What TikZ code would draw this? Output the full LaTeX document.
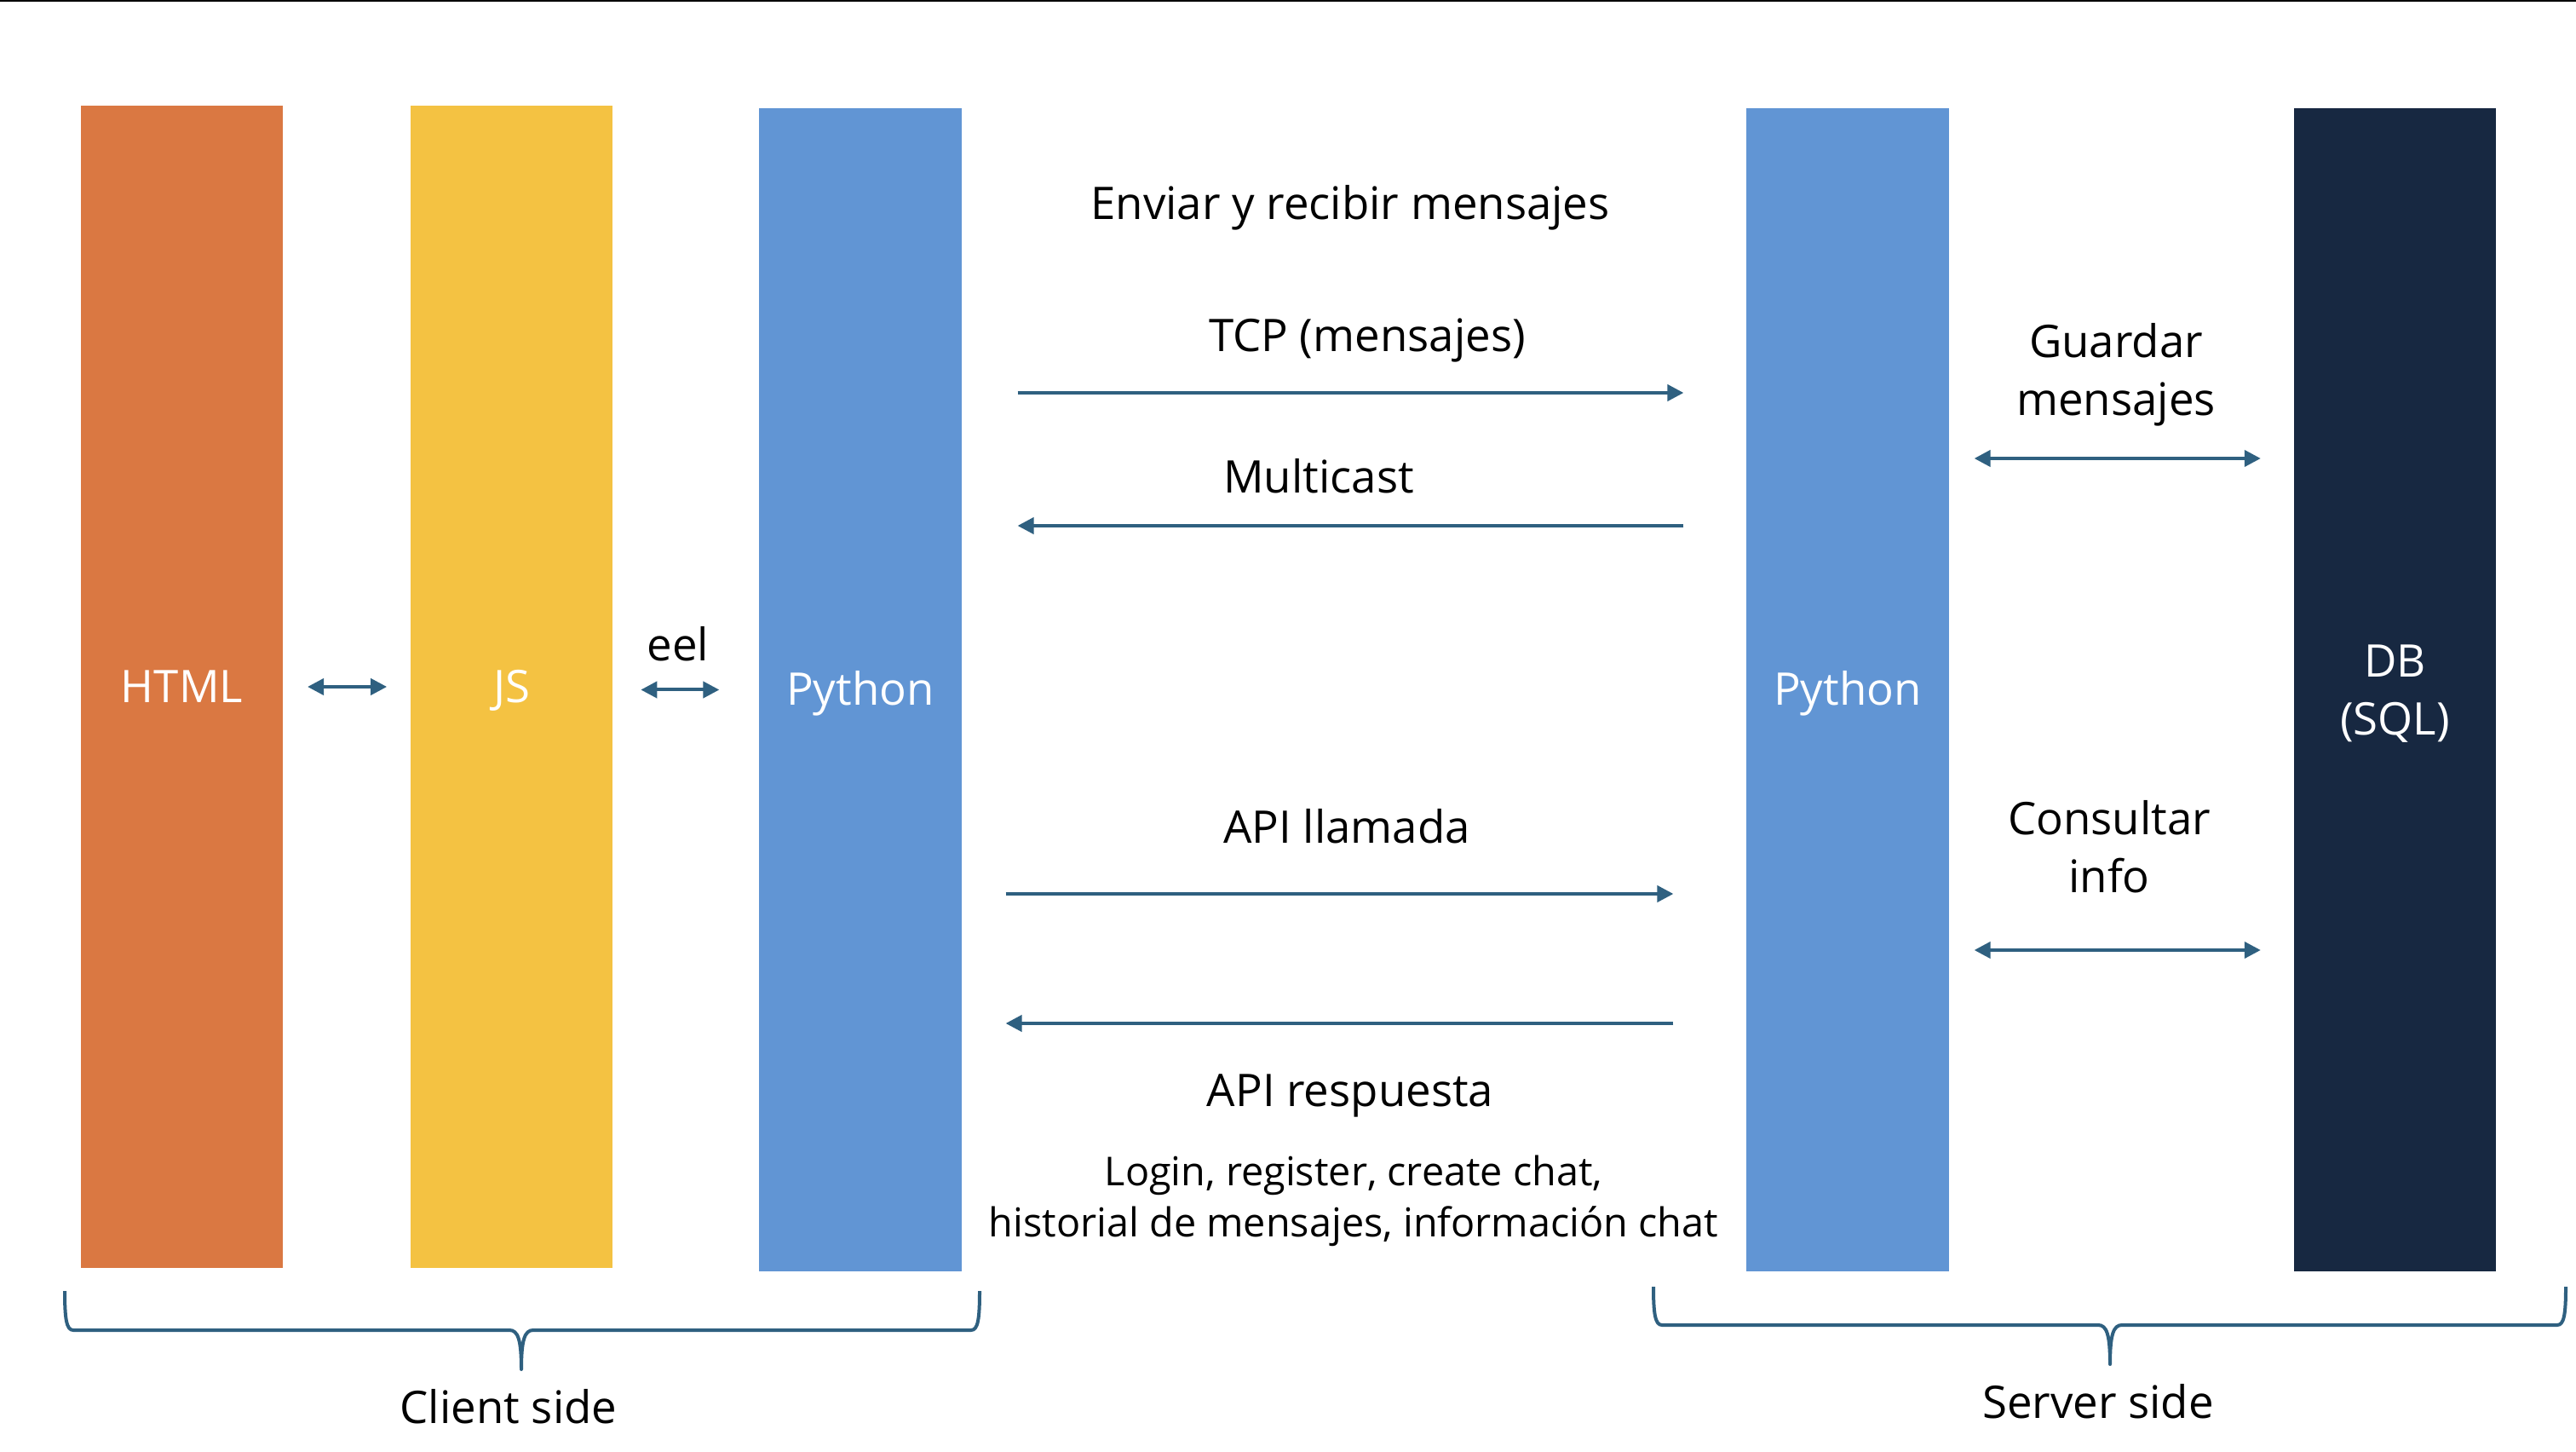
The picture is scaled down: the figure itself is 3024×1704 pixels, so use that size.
\documentclass[tikz,border=0pt]{standalone}
\usepackage{fontspec}
\setmainfont{Open Sans}
\usetikzlibrary{positioning,arrows.meta}
\definecolor{htmlc}{RGB}{218,120,66}
\definecolor{jsc}{RGB}{244,194,66}
\definecolor{pyc}{RGB}{97,149,212}
\definecolor{dbc}{RGB}{23,40,65}
\definecolor{arrc}{RGB}{47,96,128}
\tikzset{
  bar/.style={minimum width=2.37cm, minimum height=13.64cm, inner sep=0pt, outer sep=0pt,
    text=white, align=center, font=\fontsize{15}{19.3}\selectfont},
  onel/.style={text height=0.36cm, text depth=0pt},
  lbl/.style={inner sep=0pt, align=center, font=\fontsize{15}{19.3}\selectfont},
  tip/.tip={Triangle[length=0.19cm,width=0.19cm]},
  flow/.style={draw=arrc, line width=0.04cm, -tip},
  dbl/.style={draw=arrc, line width=0.04cm, tip-tip},
  brc/.style={draw=arrc, line width=0.04cm, line join=round},
}

\begin{document}
\begin{tikzpicture}[x=0.01cm, y=-0.01cm]
\useasboundingbox[fill=white] (0,0) rectangle (3024,1704);
\fill (0,0) rectangle (3024,2.5);

\node (HTML) [bar, onel, fill=htmlc] at (213.5,806) {HTML};
\node (JS) [bar, onel, fill=jsc, right=1.5cm of HTML] {JS};
\node (PyC) [bar, onel, fill=pyc, right=1.72cm of JS, yshift=-0.035cm] {Python};
\node (PyS) [bar, onel, fill=pyc] at (2169,809.5) {Python};
\node (DB) [bar, fill=dbc, text depth=0pt, right=4.05cm of PyS] {DB\\(SQL)};

\coordinate (yTCP) at (0,461);
\coordinate (yMul) at (0,617);
\coordinate (yCall) at (0,1049);
\coordinate (yResp) at (0,1201);
\coordinate (yStore) at (0,538);
\coordinate (yQuery) at (0,1115);

\draw[dbl, shorten <=0.29cm, shorten >=0.28cm] (HTML.east) -- (JS.west);
\draw[dbl, shorten <=0.33cm, shorten >=0.47cm] (JS.east |- PyC.west) -- (PyC.west);
\node (eel) [lbl, anchor=base] at (796,776) {eel};

\node (send) [lbl, anchor=base] at (1585,258) {Enviar y recibir mensajes};
\node (tcp) [lbl, anchor=base] at (1605,413) {TCP (mensajes)};
\draw[flow, shorten <=0.66cm, shorten >=0.74cm] (PyC.east |- yTCP) -- (PyS.west |- yTCP);
\node (mcast) [lbl, anchor=base] at (1548,579) {Multicast};
\draw[flow, shorten <=0.74cm, shorten >=0.66cm] (PyS.west |- yMul) -- (PyC.east |- yMul);

\node (call) [lbl, anchor=base] at (1581,989) {API llamada};
\draw[flow, shorten <=0.52cm, shorten >=0.86cm] (PyC.east |- yCall) -- (PyS.west |- yCall);
\draw[flow, shorten <=0.86cm, shorten >=0.52cm] (PyS.west |- yResp) -- (PyC.east |- yResp);
\node (resp) [lbl, anchor=base] at (1585,1298) {API respuesta};
\node (ops) [lbl, font=\fontsize{13.3}{17}\selectfont] at (1589,1409)
  {Login, register, create chat,\\historial de mensajes, información chat};

\node (store) [lbl] at (2484,440) {Guardar\\mensajes};
\draw[dbl, shorten <=0.30cm, shorten >=0.39cm] (PyS.east |- yStore) -- (DB.west |- yStore);
\node (query) [lbl] at (2476,994) {Consultar\\info};
\draw[dbl, shorten <=0.30cm, shorten >=0.39cm] (PyS.east |- yQuery) -- (DB.west |- yQuery);

\draw[brc] (76,1515) .. controls (76,1548) and (78,1561) .. (86,1561) -- (598,1561)
  .. controls (608,1561) and (612,1572) .. (612,1607)
  .. controls (612,1572) and (616,1561) .. (626,1561) -- (1140,1561)
  .. controls (1148,1561) and (1150,1548) .. (1150,1515);
\node (client) [lbl, anchor=base] at (597,1670) {Client side};

\draw[brc] (1941,1510) .. controls (1941,1542) and (1943,1555) .. (1951,1555) -- (2463,1555)
  .. controls (2473,1555) and (2477,1566) .. (2477,1601)
  .. controls (2477,1566) and (2481,1555) .. (2491,1555) -- (3002,1555)
  .. controls (3010,1555) and (3012,1542) .. (3012,1510);
\node (server) [lbl, anchor=base] at (2463,1664) {Server side};
\end{tikzpicture}
\end{document}
